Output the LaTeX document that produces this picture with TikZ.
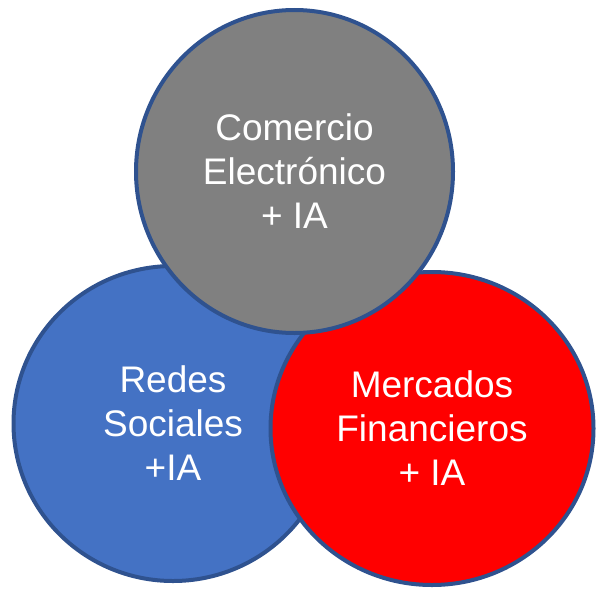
\documentclass[tikz,border=0pt]{standalone}
\usepackage{fontspec}
\setmainfont{Liberation Sans}
\usetikzlibrary{positioning,shapes.geometric}
\definecolor{edgeblue}{HTML}{2F528F}
\definecolor{fillblue}{HTML}{4472C4}
\definecolor{fillgray}{HTML}{808080}
\definecolor{fillred}{HTML}{FF0000}
\tikzset{
  bubble/.style={ellipse, draw=edgeblue, line width=4pt, inner sep=0pt,
    text=white, align=center, font=\fontsize{37}{44}\selectfont}
}

\begin{document}
\begin{tikzpicture}[x=1pt,y=-1pt]
\useasboundingbox (0,0) rectangle (596,589);
\node[bubble, fill=fillblue, minimum width=319pt, minimum height=315pt] (redes) at (173,423.5) {Redes\\Sociales\\+IA};
\node[bubble, fill=fillred, minimum width=323pt, minimum height=313pt] (mercados) at (432,428.5) {Mercados\\Financieros\\+ IA};
\node[bubble, fill=fillgray, minimum width=317pt, minimum height=323pt] (comercio) at (294.5,171.5) {Comercio\\Electrónico\\+ IA};
\end{tikzpicture}
\end{document}
